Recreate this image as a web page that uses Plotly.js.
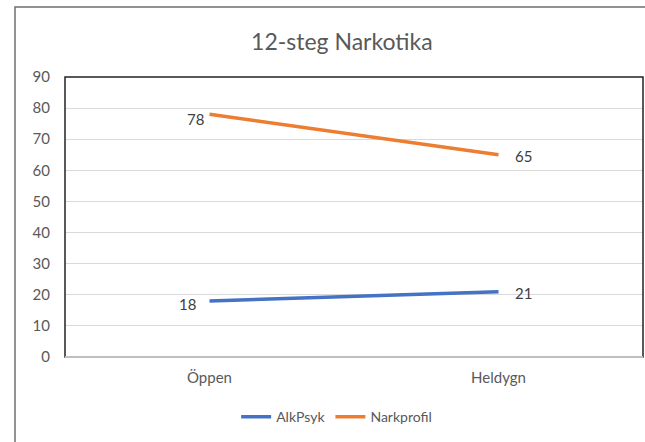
<!DOCTYPE html>
<html>
<head>
<meta charset="utf-8">
<script src="https://cdn.plot.ly/plotly-3.0.1.min.js"></script>
<style>html,body{margin:0;padding:0;background:#fff;}#chart{width:645px;height:442px;}</style>
</head>
<body>
<div id="chart"></div>
<script>
const categories = ["Öppen", "Heldygn"];
const alkPsyk = [18, 21];
const narkprofil = [78, 65];
const yTicks = [0, 10, 20, 30, 40, 50, 60, 70, 80, 90];

const fontFam = "Lato, 'Noto Sans', sans-serif";
const grey = "#595959";

const traces = [
  {
    x: categories, y: alkPsyk, name: "AlkPsyk", type: "scatter", mode: "lines",
    line: {color: "#4472C4", width: 3.5}
  },
  {
    x: categories, y: narkprofil, name: "Narkprofil", type: "scatter", mode: "lines",
    line: {color: "#ED7D31", width: 3.5}
  }
];

// data labels: left of first point, right of second point
const labelStyle = [
  {xshift: [-12, 14], yshift: [-3, -1]},
  {xshift: [-4, 14], yshift: [-5, -1]}
];
const annotations = [];
[alkPsyk, narkprofil].forEach((series, si) => {
  series.forEach((v, i) => {
    annotations.push({
      x: categories[i], y: v, xref: "x", yref: "y", text: String(v), showarrow: false,
      xanchor: i === 0 ? "right" : "left", yanchor: "middle",
      xshift: labelStyle[si].xshift[i], yshift: labelStyle[si].yshift[i],
      font: {family: fontFam, size: 15, color: "#404040"}
    });
  });
});

const layout = {
  width: 645, height: 442,
  margin: {l: 65, r: 2, t: 77, b: 85},
  paper_bgcolor: "#fff", plot_bgcolor: "#fff",
  font: {family: fontFam, color: grey, size: 15},
  title: {text: "12-steg Narkotika", font: {family: fontFam, size: 23, color: grey},
    x: 0.53, xanchor: "center", xref: "container", y: 0.905, yanchor: "middle"},
  xaxis: {
    type: "category", range: [-0.5, 1.5], showgrid: false, zeroline: false,
    showline: false, ticks: "",
    tickfont: {family: fontFam, size: 15, color: grey}, ticklabelstandoff: 10
  },
  yaxis: {
    range: [0, 90], tickvals: yTicks, showgrid: true, gridcolor: "#d9d9d9", gridwidth: 1,
    zeroline: false, showline: false, ticks: "", ticklabelstandoff: 14,
    tickfont: {family: fontFam, size: 15, color: grey}
  },
  showlegend: true,
  legend: {orientation: "h", x: 0.47, xanchor: "center", y: -0.215, yanchor: "middle",
    font: {family: fontFam, size: 14, color: grey}, itemwidth: 30, tracegroupgap: 0},
  annotations: annotations,
  shapes: [
    {type: "rect", xref: "paper", yref: "paper", x0: 0, x1: 1, y0: 0, y1: 1,
     line: {color: "#222", width: 1.5}, fillcolor: "rgba(0,0,0,0)", layer: "above"},
    {type: "rect", xref: "paper", yref: "paper", x0: -0.0865, x1: 1.2, y0: -0.5, y1: 1.25,
     line: {color: "#6f6f6f", width: 1.5}, fillcolor: "rgba(0,0,0,0)", layer: "above"},
    {type: "line", xref: "paper", yref: "paper", x0: 0, x1: 1, y0: 0, y1: 0,
     line: {color: "#bfbfbf", width: 2}, layer: "above"}
  ]
};

Plotly.newPlot("chart", traces, layout, {displayModeBar: false, staticPlot: true});
</script>
</body>
</html>
